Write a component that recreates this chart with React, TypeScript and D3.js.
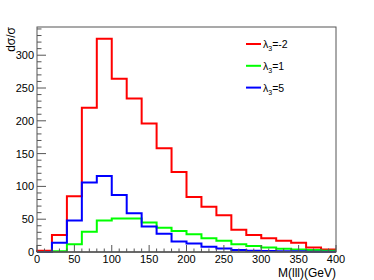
import React from "react";
import * as d3 from "d3";

const binEdges = [0, 20, 40, 60, 80, 100, 120, 140, 160, 180, 200, 220, 240, 260, 280, 300, 320, 340, 360, 380, 400];
const redValues = [2, 26, 85, 220, 325, 264, 234, 196, 158, 122, 84, 69, 56, 34, 26, 21, 17, 14, 7, 4];
const greenValues = [0, 1, 12, 31, 48, 51, 51, 45, 37, 32, 27, 21, 17, 12, 9, 7, 5, 4, 3, 2];
const blueValues = [0, 14, 48, 106, 116, 87, 59, 39, 28, 16, 13, 8, 5.5, 3, 2, 1.5, 1, 1, 0.5, 0.5];
const xTicks = [0, 50, 100, 150, 200, 250, 300, 350, 400];
const yTicks = [0, 50, 100, 150, 200, 250, 300];
const legendLabels = ["-2", "1", "5"];
const seriesColors = ["#ff0000", "#00ff00", "#0000ff"];

const W = 374, H = 280;
const L = 37, R = 336, T = 27, B = 252;
const font = "'Liberation Sans', Arial, Helvetica, sans-serif";

export default function App() {
  const x = d3.scaleLinear().domain([0, 400]).range([L, R]);
  const y = d3.scaleLinear().domain([0, 343]).range([B, T]);
  const series = [redValues, greenValues, blueValues];
  const line = d3.line<[number, number]>()
    .x(d => x(d[0]))
    .y(d => y(d[1]))
    .curve(d3.curveStepAfter);
  const pathFor = (vals: number[]) => {
    const pts: [number, number][] = [[binEdges[0], 0]];
    vals.forEach((v, i) => pts.push([binEdges[i], v]));
    pts.push([binEdges[binEdges.length - 1], vals[vals.length - 1]]);
    return line(pts) || "";
  };
  const xMinor = d3.range(0, 401, 10);
  const yMinor = d3.range(0, 341, 10);
  const axisColor = "#555";
  return (
    <svg width={W} height={H} style={{ position: "absolute", left: 0, top: 0, background: "#fff" }}>
      <rect x={0} y={0} width={W} height={H} fill="#fff" />
      {series.map((vals, i) => (
        <path key={i} d={pathFor(vals)} fill="none" stroke={seriesColors[i]} strokeWidth={2} />
      ))}
      <rect x={L} y={T} width={R - L} height={B - T} fill="none" stroke={axisColor} strokeWidth={1} />
      {xMinor.map(v => (
        <line key={"xm" + v} x1={x(v)} x2={x(v)} y1={B} y2={B - (v % 50 === 0 ? 7 : 3.5)} stroke={axisColor} strokeWidth={1} />
      ))}
      {yMinor.map(v => (
        <line key={"ym" + v} x1={L} x2={L + (v % 50 === 0 ? 9 : 4.5)} y1={y(v)} y2={y(v)} stroke={axisColor} strokeWidth={1} />
      ))}
      <line x1={L} x2={R} y1={B} y2={B} stroke={axisColor} strokeWidth={1.5} />
      {xTicks.map(v => (
        <text key={"xt" + v} x={x(v)} y={B + 11} textAnchor="middle" fontSize={11} fontFamily={font} fill="#000">{v}</text>
      ))}
      {yTicks.map(v => (
        <text key={"yt" + v} x={L - 3} y={y(v) + 4} textAnchor="end" fontSize={11} fontFamily={font} fill="#000">{v}</text>
      ))}
      <text x={R} y={277} textAnchor="end" fontSize={12} fontFamily={font} fill="#000">M(lll)(GeV)</text>
      <text transform={`translate(15,${T}) rotate(-90)`} textAnchor="end" fontSize={12} fontFamily={font} fill="#000">dσ/σ</text>
      {legendLabels.map((lab, i) => {
        const ly = 44 + i * 21.8;
        return (
          <g key={"lg" + i}>
            <line x1={246} x2={261} y1={ly} y2={ly} stroke={seriesColors[i]} strokeWidth={2} />
            <text x={263} y={ly + 4} fontSize={10.5} fontFamily={font} fill="#000">
              λ<tspan fontSize={7} dy={3}>3</tspan><tspan dy={-3}>={lab}</tspan>
            </text>
          </g>
        );
      })}
    </svg>
  );
}
